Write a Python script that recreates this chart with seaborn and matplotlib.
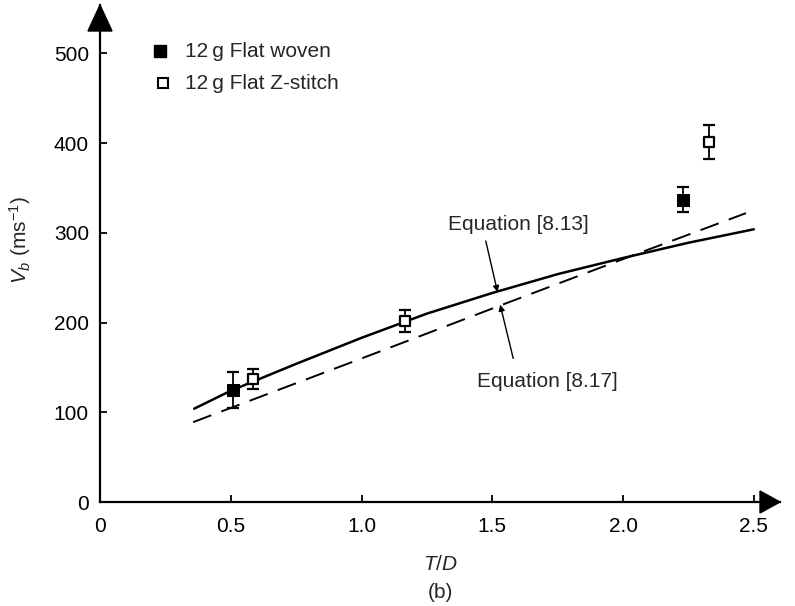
import numpy as np
import pandas as pd
import matplotlib
matplotlib.use("Agg")
import matplotlib.pyplot as plt
import seaborn as sns
from matplotlib.patches import Polygon

# ---- data ----
woven_td = [0.51, 2.23]
woven_vb = [125, 337]
woven_err = [20, 14]

zst_td = [0.585, 1.165, 2.33]
zst_vb = [137, 202, 401]
zst_err = [11, 12, 19]

eq813_td = [0.36, 0.5, 0.75, 1.0, 1.25, 1.5, 1.75, 2.0, 2.25, 2.5]
eq813_vb = [104, 124, 154, 183, 210, 233, 254, 272, 289, 304]

eq817_td = [0.356, 1.0, 1.53, 2.02, 2.47]
eq817_vb = [89, 160, 219, 273, 322]

xticks = [0, 0.5, 1.0, 1.5, 2.0, 2.5]
xticklabels = ["0", "0.5", "1.0", "1.5", "2.0", "2.5"]
yticks = [0, 100, 200, 300, 400, 500]
legend_labels = ["12\u2009g Flat woven", "12\u2009g Flat Z-stitch"]

sns.set_style("ticks")
plt.rcParams["font.family"] = ["Liberation Sans", "DejaVu Sans"]
plt.rcParams["mathtext.fontset"] = "custom"
plt.rcParams["mathtext.it"] = "Liberation Sans:italic"
plt.rcParams["mathtext.rm"] = "Liberation Sans"

FS = 15
fig = plt.figure(figsize=(7.95, 6.06), dpi=100)
W, H = 795, 606
x0, x1 = 0.0, 2.6
y0, y1 = 0.0, 554.0
ax = fig.add_axes([100 / W, (H - 502) / H, (780 - 100) / W, (502 - 5) / H])
ax.set_xlim(x0, x1)
ax.set_ylim(y0, y1)

c813 = pd.DataFrame({"td": eq813_td, "vb": eq813_vb})
c817 = pd.DataFrame({"td": eq817_td, "vb": eq817_vb})
sns.lineplot(data=c813, x="td", y="vb", color="black", lw=1.8, ax=ax, legend=False)
sns.lineplot(data=c817, x="td", y="vb", color="black", lw=1.4, ax=ax, legend=False)
ax.lines[-1].set_dashes([10, 5.5])

# error bars
ax.errorbar(woven_td, woven_vb, yerr=woven_err, fmt="none", ecolor="black",
            elinewidth=1.3, capsize=4, capthick=1.6, zorder=3)
ax.errorbar(zst_td, zst_vb, yerr=zst_err, fmt="none", ecolor="black",
            elinewidth=1.3, capsize=4, capthick=1.6, zorder=3)

pw = pd.DataFrame({"td": woven_td, "vb": woven_vb})
pz = pd.DataFrame({"td": zst_td, "vb": zst_vb})
sns.scatterplot(data=pw, x="td", y="vb", marker="s", s=85, color="black",
                edgecolor="black", ax=ax, legend=False, zorder=4)
sns.scatterplot(data=pz, x="td", y="vb", marker="s", s=60, facecolor="white",
                edgecolor="black", linewidth=1.6, ax=ax, legend=False, zorder=4)

# legend (manual, as in the figure)
ax.plot([0.088], [0.907], ls="none", marker="s", ms=8, mfc="black", mec="black",
        transform=ax.transAxes, clip_on=False)
ax.plot([0.092], [0.843], ls="none", marker="s", ms=7, mfc="white", mec="black",
        mew=1.5, transform=ax.transAxes, clip_on=False)
ax.text(0.125, 0.907, legend_labels[0], transform=ax.transAxes, ha="left",
        va="center", fontsize=FS)
ax.text(0.125, 0.843, legend_labels[1], transform=ax.transAxes, ha="left",
        va="center", fontsize=FS)

# annotations
ax.text(1.6, 309, "Equation [8.13]", ha="center", va="center", fontsize=FS)
ax.annotate("", xy=(1.52, 234), xytext=(1.475, 291),
            arrowprops=dict(arrowstyle="-|>", color="black", lw=1.0,
                            mutation_scale=9, shrinkA=0, shrinkB=0))
ax.text(1.71, 134, "Equation [8.17]", ha="center", va="center", fontsize=FS)
ax.annotate("", xy=(1.53, 220), xytext=(1.58, 160),
            arrowprops=dict(arrowstyle="-|>", color="black", lw=1.0,
                            mutation_scale=9, shrinkA=0, shrinkB=0))

# axes styling
for s in ["top", "right"]:
    ax.spines[s].set_visible(False)
for s in ["left", "bottom"]:
    ax.spines[s].set_linewidth(1.6)
    ax.spines[s].set_color("black")
ax.set_xticks(xticks)
ax.set_xticklabels(xticklabels)
ax.set_yticks(yticks)
ax.tick_params(direction="in", length=5, width=1.3, labelsize=FS, colors="black")
ax.tick_params(axis="x", pad=11)
ax.tick_params(axis="y", pad=8)
ax.set_xlabel("$T$/$D$", fontsize=FS)
ax.xaxis.set_label_coords((440 - 100) / 680, (502 - 555) / 497)
ax.set_ylabel("$V_b$ (ms$^{-1}$)", fontsize=FS)
ax.yaxis.set_label_coords((33 - 100) / 680, (502 - 240) / 497)

# axis arrows
dx_px = (x1 - x0) / (780 - 100)
dy_px = (y1 - y0) / (502 - 5)
ax.add_patch(Polygon([[0, y1], [-12 * dx_px, y1 - 26 * dy_px], [12 * dx_px, y1 - 26 * dy_px]],
                     closed=True, color="black", clip_on=False, zorder=5))
ax.add_patch(Polygon([[x1, 0], [x1 - 20 * dx_px, 11 * dy_px], [x1 - 20 * dx_px, -11 * dy_px]],
                     closed=True, color="black", clip_on=False, zorder=5))

fig.text(440 / W, 1 - 592 / H, "(b)", ha="center", va="center", fontsize=FS)

fig.savefig("out.png", dpi=100)
